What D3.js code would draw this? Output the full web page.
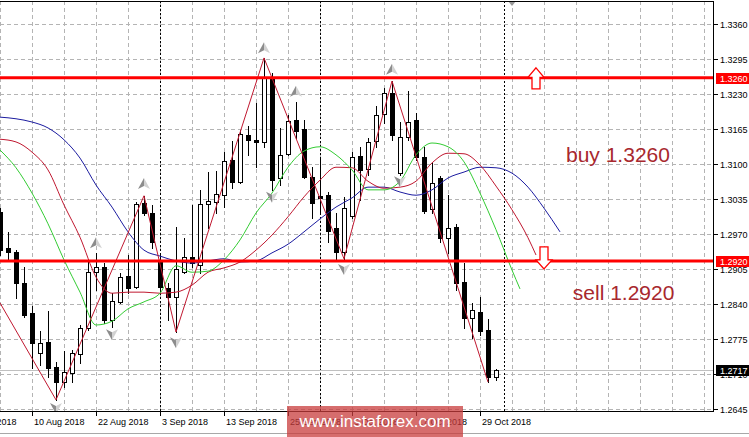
<!DOCTYPE html>
<html>
<head>
<meta charset="UTF-8">
<title>GBPUSD Daily</title>
<script src="https://d3js.org/d3.v7.min.js"></script>
<style>
  body { margin: 0; background: #fff; }
  svg { display: block; font-family: "Liberation Sans", Arial, sans-serif; }
</style>
</head>
<body>
<script>
// daily bars, 6 Aug 2018 .. 31 Oct 2018 (bar index 0 = 6 Aug)
var opens = [
  1.3011,1.2944,1.2937,1.2879,1.2823,1.2749,1.2769,1.2723,1.2695,1.2712,
  1.2747,1.2795,1.2899,1.2909,1.2810,1.2844,1.2892,1.2872,1.3028,1.3009,
  1.2918,1.2870,1.2853,1.2899,1.2927,1.2912,1.3026,1.3029,1.3042,1.3107,
  1.3067,1.3154,1.3145,1.3141,1.3260,1.3074,1.3119,1.3182,1.3165,1.3076,
  1.3041,1.3042,1.2981,1.2937,1.3003,1.3115,1.3091,1.3143,1.3193,1.3232,
  1.3083,1.3150,1.3182,1.3113,1.3016,1.3074,1.2963,1.2983,1.2881,1.2814,
  1.2825,1.2792,1.2704];
var highs = [
  1.3018,1.2974,1.2940,1.2909,1.2836,1.2790,1.2827,1.2732,1.2753,1.2755,
  1.2801,1.2922,1.2935,1.2916,1.2860,1.2898,1.2931,1.3029,1.3041,1.3024,
  1.2931,1.2879,1.2983,1.2963,1.3024,1.3052,1.3085,1.3087,1.3122,1.3143,
  1.3163,1.3171,1.3213,1.3297,1.3269,1.3167,1.3191,1.3215,1.3182,1.3094,
  1.3113,1.3048,1.3009,1.3039,1.3122,1.3132,1.3148,1.3208,1.3241,1.3254,
  1.3178,1.3236,1.3195,1.3132,1.3102,1.3078,1.3042,1.2989,1.2916,1.2842,
  1.2853,1.2812,1.2719];
var lows = [
  1.2931,1.2922,1.2851,1.2816,1.2721,1.2727,1.2704,1.2662,1.2686,1.2695,
  1.2730,1.2792,1.2866,1.2805,1.2797,1.2842,1.2860,1.2870,1.3005,1.2944,
  1.2860,1.2810,1.2788,1.2898,1.2909,1.2898,1.2981,1.3009,1.3020,1.3055,
  1.3065,1.3117,1.3094,1.3132,1.3052,1.3061,1.3117,1.3148,1.3074,1.3000,
  1.3009,1.2955,1.2922,1.2924,1.3000,1.3033,1.3080,1.3132,1.3176,1.3145,
  1.3080,1.3145,1.3107,1.3009,1.3009,1.2955,1.2935,1.2866,1.2795,1.2777,
  1.2782,1.2695,1.2699];
var closes = [
  1.2940,1.2937,1.2879,1.2820,1.2768,1.2768,1.2721,1.2695,1.2714,1.2749,
  1.2795,1.2899,1.2909,1.2810,1.2846,1.2890,1.2870,1.3026,1.3009,1.2955,
  1.2872,1.2853,1.2905,1.2927,1.2916,1.3026,1.3031,1.3044,1.3106,1.3067,
  1.3156,1.3145,1.3141,1.3260,1.3070,1.3117,1.3180,1.3161,1.3076,1.3028,
  1.3037,1.2976,1.2937,1.3018,1.3113,1.3089,1.3141,1.3191,1.3232,1.3154,
  1.3150,1.3178,1.3113,1.3013,1.3065,1.2963,1.2981,1.2879,1.2814,1.2829,
  1.2790,1.2704,1.2717];

// Alligator lines (read every 2nd bar, shifted forward past the last bar)
var jawIdx = d3.range(0, 71, 2);
var jaw = [1.3187,1.3184,1.3178,1.3167,1.3145,1.3111,1.3061,1.3020,1.2974,1.2940,
  1.2929,1.2920,1.2916,1.2920,1.2924,1.2918,1.2920,1.2935,1.2951,1.2974,
  1.2998,1.3020,1.3037,1.3057,1.3057,1.3048,1.3042,1.3052,1.3074,1.3085,
  1.3094,1.3093,1.3083,1.3057,1.3018,1.2974];
var teethIdx = d3.range(0, 67, 2).concat([67]);
var teeth = [1.3146,1.3141,1.3122,1.3089,1.3024,1.2964,1.2890,1.2860,1.2862,1.2862,
  1.2860,1.2862,1.2875,1.2899,1.2907,1.2918,1.2940,1.2968,1.3002,1.3039,
  1.3070,1.3094,1.3093,1.3068,1.3055,1.3057,1.3068,1.3102,1.3120,1.3119,
  1.3098,1.3059,1.3015,1.2963,1.2931];
var lipsIdx = d3.range(0, 65, 2).concat([65]);
var lips = [1.3126,1.3093,1.3046,1.2989,1.2922,1.2862,1.2801,1.2808,1.2831,1.2844,
  1.2860,1.2911,1.2899,1.2901,1.2922,1.2959,1.3009,1.3046,1.3094,1.3124,
  1.3132,1.3117,1.3089,1.3052,1.3052,1.3068,1.3117,1.3139,1.3132,1.3104,
  1.3046,1.2978,1.2903,1.2868];

// zigzag pivots
var zzIdx = [0, 7, 18, 22, 33, 43, 49, 61];
var zzPrice = [1.2842, 1.2662, 1.3041, 1.2788, 1.3297, 1.2924, 1.3254, 1.2695];

// gray arrow markers
var upMarkIdx = [12, 18, 33, 37, 49];
var upMarkPrice = [1.2953, 1.3063, 1.3315, 1.3234, 1.3275];
var dnMarkIdx = [7, 14, 22, 34, 43, 50];
var dnMarkPrice = [1.2647, 1.2784, 1.2769, 1.3039, 1.2905, 1.3068];

// levels
var buyLevel = 1.3260, sellLevel = 1.2920, lastPrice = 1.2717;
var buyArrowIdx = 67, sellArrowIdx = 68;

// axes
var priceTicks = [1.3360,1.3295,1.3230,1.3165,1.3100,1.3035,1.2970,1.2905,1.2840,1.2775,1.2710,1.2645];
var dateTickIdx = [-4, 4, 12, 20, 28, 36, 44, 52, 60];
var dateTickText = ["31 Jul 2018","10 Aug 2018","22 Aug 2018","3 Sep 2018","13 Sep 2018",
  "25 Sep 2018","5 Oct 2018","17 Oct 2018","29 Oct 2018"];
var separatorIdx = [20, 40, 63];
var shiftIdx = 64;

var W = 749, H = 437;
var plotR = 713, plotT = 1, plotB = 411;

var x = d3.scaleLinear().domain([0, 89]).range([0, 712]);
var y = d3.scaleLinear().domain([1.2645, 1.3360]).range([409, 24]);
var px = function (i) { return Math.round(x(i)) + 0.5; };
var py = function (p) { return Math.round(y(p)) + 0.5; };

var svg = d3.select("body").append("svg")
    .attr("width", W).attr("height", H);
svg.append("rect").attr("width", W).attr("height", H).attr("fill", "#fff");

svg.append("defs").append("clipPath").attr("id", "plot")
  .append("rect").attr("x", 0).attr("y", plotT).attr("width", plotR).attr("height", plotB - plotT);

var plot = svg.append("g").attr("clip-path", "url(#plot)");

// GRID
var grid = plot.append("g").attr("shape-rendering", "crispEdges")
    .attr("stroke", "#b4b4b4").attr("stroke-dasharray", "4,3");
grid.selectAll("line.h").data(priceTicks).join("line")
    .attr("x1", 0).attr("x2", plotR)
    .attr("y1", py).attr("y2", py);
grid.selectAll("line.v").data(d3.range(0, 89, 4)).join("line")
    .attr("x1", px).attr("x2", px)
    .attr("y1", plotT).attr("y2", plotB);

// period separators
plot.append("g").attr("shape-rendering", "crispEdges")
  .selectAll("line").data(separatorIdx).join("line")
    .attr("x1", px).attr("x2", px)
    .attr("y1", plotT).attr("y2", plotB)
    .attr("stroke", "#000").attr("stroke-dasharray", "2,2");

// current price line
plot.append("line")
    .attr("x1", 0).attr("x2", plotR)
    .attr("y1", py(lastPrice)).attr("y2", py(lastPrice))
    .attr("stroke", "#c0c0c0").attr("shape-rendering", "crispEdges");

// CANDLES
var bars = d3.range(opens.length);
var gC = plot.append("g").attr("shape-rendering", "crispEdges");
gC.selectAll("line").data(bars).join("line")
    .attr("x1", px).attr("x2", px)
    .attr("y1", function (i) { return Math.round(y(highs[i])); })
    .attr("y2", function (i) { return Math.round(y(lows[i])) + 1; })
    .attr("stroke", "#000");
gC.selectAll("rect").data(bars).join("rect")
    .attr("x", function (i) { return Math.round(x(i)) - 2 + 0.5; })
    .attr("y", function (i) { return py(Math.max(opens[i], closes[i])); })
    .attr("width", 4)
    .attr("height", function (i) {
        return Math.max(1, Math.round(Math.abs(y(opens[i]) - y(closes[i]))));
    })
    .attr("fill", function (i) { return closes[i] < opens[i] ? "#000" : "#fff"; })
    .attr("stroke", "#000");

// ALLIGATOR
function pairs(idx, vals) { return idx.map(function (d, k) { return [d, vals[k]]; }); }
var maLine = d3.line()
    .x(function (d) { return x(d[0]); })
    .y(function (d) { return y(d[1]); })
    .curve(d3.curveMonotoneX);
plot.append("path").attr("d", maLine(pairs(jawIdx, jaw)))
    .attr("fill", "none").attr("stroke", "#1c1ca0");
plot.append("path").attr("d", maLine(pairs(teethIdx, teeth)))
    .attr("fill", "none").attr("stroke", "#c01830");
plot.append("path").attr("d", maLine(pairs(lipsIdx, lips)))
    .attr("fill", "none").attr("stroke", "#33cc33");

// ZIGZAG
var zzLine = d3.line().x(function (d) { return x(d[0]); }).y(function (d) { return y(d[1]); });
plot.append("path").attr("d", zzLine(pairs(zzIdx, zzPrice)))
    .attr("fill", "none").attr("stroke", "#c01830");

// gray arrow markers
function marker(g, dir) {
    var s = dir; // 1 = up, -1 = down
    g.append("path").attr("d", "M0," + (-6 * s) + "L-6," + (5 * s) + "L0," + (2 * s) + "Z")
        .attr("fill", "#8c8c8c");
    g.append("path").attr("d", "M0," + (-6 * s) + "L6," + (5 * s) + "L0," + (2 * s) + "Z")
        .attr("fill", "#d2d2d2");
}
pairs(upMarkIdx, upMarkPrice).forEach(function (d) {
    marker(plot.append("g").attr("transform", "translate(" + x(d[0]) + "," + y(d[1]) + ")"), 1);
});
pairs(dnMarkIdx, dnMarkPrice).forEach(function (d) {
    marker(plot.append("g").attr("transform", "translate(" + x(d[0]) + "," + y(d[1]) + ")"), -1);
});

// LEVEL LINES
plot.selectAll("line.lvl").data([buyLevel, sellLevel]).join("line")
    .attr("x1", 0).attr("x2", plotR)
    .attr("y1", function (d) { return y(d); }).attr("y2", function (d) { return y(d); })
    .attr("stroke", "#ff0000").attr("stroke-width", 3);

// hollow red arrows
var bx = x(buyArrowIdx), by = y(buyLevel);
plot.append("path")
    .attr("d", "M" + bx + "," + (by - 10) + "L" + (bx + 8) + "," + (by - 0.5) + "L" + (bx + 4) + "," + (by - 0.5) +
      "L" + (bx + 4) + "," + (by + 11) + "L" + (bx - 4) + "," + (by + 11) + "L" + (bx - 4) + "," + (by - 0.5) +
      "L" + (bx - 8) + "," + (by - 0.5) + "Z")
    .attr("fill", "#fff").attr("stroke", "#ff0000").attr("stroke-width", 1.3);
var sx = x(sellArrowIdx), sy = y(sellLevel);
plot.append("path")
    .attr("d", "M" + sx + "," + (sy + 8) + "L" + (sx + 8) + "," + (sy - 1) + "L" + (sx + 4) + "," + (sy - 1) +
      "L" + (sx + 4) + "," + (sy - 14) + "L" + (sx - 4) + "," + (sy - 14) + "L" + (sx - 4) + "," + (sy - 1) +
      "L" + (sx - 8) + "," + (sy - 1) + "Z")
    .attr("fill", "#fff").attr("stroke", "#ff0000").attr("stroke-width", 1.3);

// annotations
plot.append("text").attr("x", x(70.75)).attr("y", y(1.3100) - 2)
    .attr("font-size", 21).attr("fill", "#a8282e").text("buy 1.3260");
plot.append("text").attr("x", x(71.6)).attr("y", y(1.2840) - 4)
    .attr("font-size", 21).attr("fill", "#a8282e").text("sell 1.2920");

// chart shift marker
svg.append("path")
    .attr("d", "M" + (x(shiftIdx) - 4) + "," + plotT + "L" + (x(shiftIdx) + 4) + "," + plotT + "L" + x(shiftIdx) + "," + (plotT + 5) + "Z")
    .attr("fill", "#9a9a9a");

// FRAME
var frame = svg.append("g").attr("shape-rendering", "crispEdges").attr("stroke", "#000");
frame.append("line").attr("x1", 0).attr("x2", plotR + 1).attr("y1", plotT + 0.5).attr("y2", plotT + 0.5);
frame.append("line").attr("x1", 0).attr("x2", plotR + 1).attr("y1", plotB + 0.5).attr("y2", plotB + 0.5);
frame.append("line").attr("x1", plotR + 0.5).attr("x2", plotR + 0.5).attr("y1", plotT).attr("y2", plotB + 1);

// PRICE AXIS
var pa = svg.append("g").attr("font-size", 9);
pa.selectAll("line").data(priceTicks).join("line")
    .attr("x1", plotR).attr("x2", plotR + 5)
    .attr("y1", py).attr("y2", py)
    .attr("stroke", "#000").attr("shape-rendering", "crispEdges");
pa.selectAll("text").data(priceTicks).join("text")
    .attr("x", 720).attr("y", function (d) { return y(d) + 3.5; })
    .text(function (d) { return d.toFixed(4); });

var tags = [[buyLevel, "#ff0000"], [sellLevel, "#ff0000"], [lastPrice, "#000"]];
tags.forEach(function (t) {
    var ty = Math.round(y(t[0]));
    pa.append("rect").attr("x", 716).attr("y", ty - 5).attr("width", 33).attr("height", 11)
        .attr("fill", t[1]);
    pa.append("text").attr("x", 720).attr("y", ty + 3.5).attr("fill", "#fff").text(t[0].toFixed(4));
});

// DATE AXIS
var da = svg.append("g").attr("font-size", 9);
da.selectAll("line").data(dateTickIdx).join("line")
    .attr("x1", px).attr("x2", px)
    .attr("y1", plotB + 1).attr("y2", plotB + 5)
    .attr("stroke", "#000").attr("shape-rendering", "crispEdges");
da.selectAll("text").data(dateTickIdx).join("text")
    .attr("x", function (d) { return x(d) + 2; })
    .attr("y", 425)
    .text(function (d, k) { return dateTickText[k]; });

svg.append("line").attr("x1", 0).attr("x2", W).attr("y1", 433.5).attr("y2", 433.5)
    .attr("stroke", "#a8a8a8").attr("shape-rendering", "crispEdges");

// watermark
svg.append("rect").attr("x", 287).attr("y", 406).attr("width", 176).attr("height", 31)
    .attr("fill", "#c83c3c").attr("opacity", 0.75);
svg.append("text").attr("x", 375).attr("y", 427).attr("text-anchor", "middle")
    .attr("font-size", 17).attr("fill", "#fff").text("www.instaforex.com");
</script>
</body>
</html>
